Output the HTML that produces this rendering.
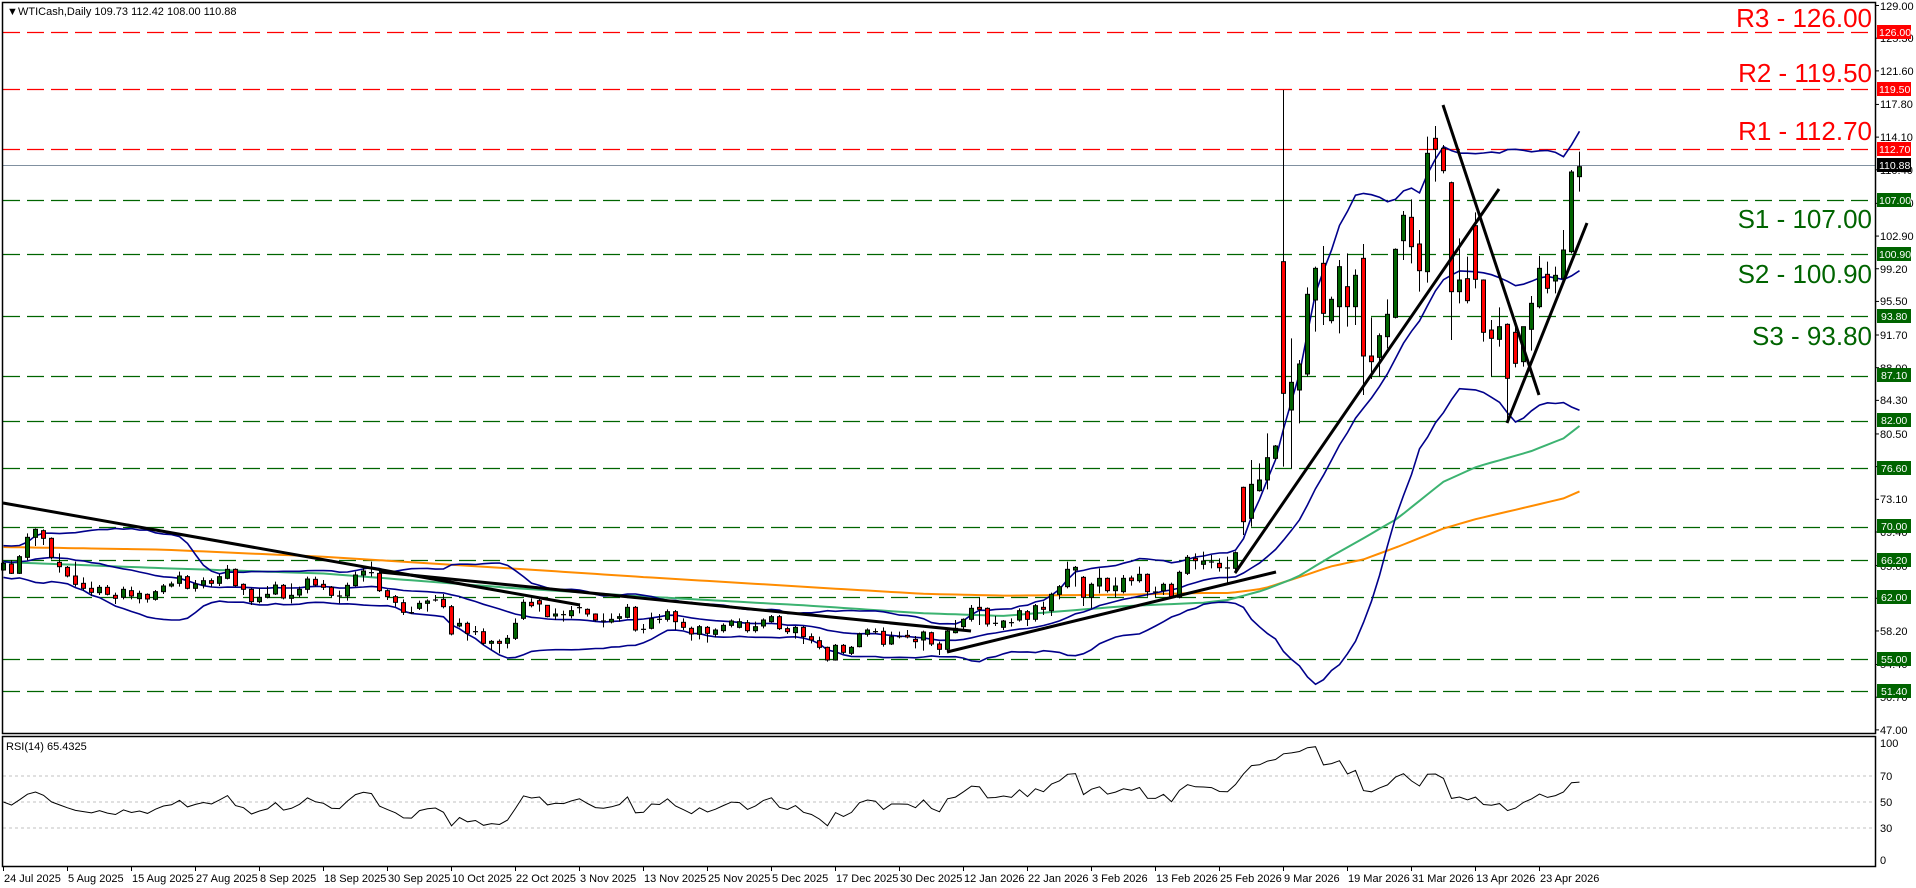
<!DOCTYPE html>
<html><head><meta charset="utf-8">
<style>
html,body{margin:0;padding:0;background:#fff;}
svg{display:block;font-family:"Liberation Sans",Tahoma,sans-serif;}
.ax{font-size:11px;fill:#000;}
.bx{font-size:10.5px;fill:#fff;}
.big{font-size:26px;}
</style></head>
<body>
<svg id="c" width="1916" height="888" viewBox="0 0 1916 888" xmlns="http://www.w3.org/2000/svg">
<rect x="0" y="0" width="1916" height="888" fill="#fff"/>
<g id="hl"></g>
<g id="ind"></g>
<g id="cd"></g>
<g id="tl"></g>
<g id="rsi"></g>
<rect x="2.5" y="2.5" width="1873" height="731" fill="none" stroke="#000" stroke-width="1.5"/>
<rect x="2.5" y="736.5" width="1873" height="130" fill="none" stroke="#000" stroke-width="1.5"/>
<text x="7" y="15" class="ax">▼</text>
<text x="18" y="15" class="ax">WTICash,Daily  109.73 112.42 108.00 110.88</text>
<text x="6" y="750" class="ax">RSI(14) 65.4325</text>
<text x="1872" y="27" class="big" fill="#ff0000" text-anchor="end">R3 - 126.00</text>
<text x="1872" y="82" class="big" fill="#ff0000" text-anchor="end">R2 - 119.50</text>
<text x="1872" y="140" class="big" fill="#ff0000" text-anchor="end">R1 - 112.70</text>
<text x="1872" y="228" class="big" fill="#006400" text-anchor="end">S1 - 107.00</text>
<text x="1872" y="283" class="big" fill="#006400" text-anchor="end">S2 - 100.90</text>
<text x="1872" y="345" class="big" fill="#006400" text-anchor="end">S3 - 93.80</text>
<g class="ax">
<text x="1880" y="10">129.00</text><text x="1880" y="42">125.30</text><text x="1880" y="75">121.60</text>
<text x="1880" y="108">117.80</text><text x="1880" y="141">114.10</text><text x="1880" y="174">110.40</text>
<text x="1880" y="207">106.60</text><text x="1880" y="240">102.90</text><text x="1880" y="273">99.20</text>
<text x="1880" y="305">95.50</text><text x="1880" y="339">91.70</text><text x="1880" y="372">88.00</text>
<text x="1880" y="404">84.30</text><text x="1880" y="438">80.50</text><text x="1880" y="471">76.80</text>
<text x="1880" y="503">73.10</text><text x="1880" y="536">69.40</text><text x="1880" y="570">65.60</text>
<text x="1880" y="602">61.90</text><text x="1880" y="635">58.20</text><text x="1880" y="668">54.40</text>
<text x="1880" y="701">50.70</text><text x="1880" y="734">47.00</text>
</g>
<g id="ticks"></g>
<g>
<rect x="1877" y="25" width="34" height="14" fill="#ff0000"/><text x="1879" y="36" class="bx">126.00</text>
<rect x="1877" y="82" width="34" height="14" fill="#ff0000"/><text x="1879" y="93" class="bx">119.50</text>
<rect x="1877" y="142" width="34" height="14" fill="#ff0000"/><text x="1879" y="153" class="bx">112.70</text>
<rect x="1877" y="158" width="34" height="14" fill="#000"/><text x="1879" y="169" class="bx">110.88</text>
<rect x="1877" y="193" width="34" height="14" fill="#006400"/><text x="1879" y="204" class="bx">107.00</text>
<rect x="1877" y="247" width="34" height="14" fill="#006400"/><text x="1879" y="258" class="bx">100.90</text>
<rect x="1877" y="309" width="34" height="14" fill="#006400"/><text x="1881" y="320" class="bx">93.80</text>
<rect x="1877" y="368" width="34" height="14" fill="#006400"/><text x="1881" y="379" class="bx">87.10</text>
<rect x="1877" y="413" width="34" height="14" fill="#006400"/><text x="1881" y="424" class="bx">82.00</text>
<rect x="1877" y="461" width="34" height="14" fill="#006400"/><text x="1881" y="472" class="bx">76.60</text>
<rect x="1877" y="519" width="34" height="14" fill="#006400"/><text x="1881" y="530" class="bx">70.00</text>
<rect x="1877" y="553" width="34" height="14" fill="#006400"/><text x="1881" y="564" class="bx">66.20</text>
<rect x="1877" y="590" width="34" height="14" fill="#006400"/><text x="1881" y="601" class="bx">62.00</text>
<rect x="1877" y="652" width="34" height="14" fill="#006400"/><text x="1881" y="663" class="bx">55.00</text>
<rect x="1877" y="684" width="34" height="14" fill="#006400"/><text x="1881" y="695" class="bx">51.40</text>
</g>
<g class="ax">
<text x="1880" y="747">100</text><text x="1880" y="780">70</text><text x="1880" y="806">50</text>
<text x="1880" y="832">30</text><text x="1880" y="864">0</text>
</g>
<g class="ax">
<text x="4" y="882">24 Jul 2025</text><text x="68" y="882">5 Aug 2025</text><text x="132" y="882">15 Aug 2025</text>
<text x="196" y="882">27 Aug 2025</text><text x="260" y="882">8 Sep 2025</text><text x="324" y="882">18 Sep 2025</text>
<text x="388" y="882">30 Sep 2025</text><text x="452" y="882">10 Oct 2025</text><text x="516" y="882">22 Oct 2025</text>
<text x="580" y="882">3 Nov 2025</text><text x="644" y="882">13 Nov 2025</text><text x="708" y="882">25 Nov 2025</text>
<text x="772" y="882">5 Dec 2025</text><text x="836" y="882">17 Dec 2025</text><text x="900" y="882">30 Dec 2025</text>
<text x="964" y="882">12 Jan 2026</text><text x="1028" y="882">22 Jan 2026</text><text x="1092" y="882">3 Feb 2026</text>
<text x="1156" y="882">13 Feb 2026</text><text x="1220" y="882">25 Feb 2026</text><text x="1284" y="882">9 Mar 2026</text>
<text x="1348" y="882">19 Mar 2026</text><text x="1412" y="882">31 Mar 2026</text><text x="1476" y="882">13 Apr 2026</text>
<text x="1540" y="882">23 Apr 2026</text>
</g>
</svg>
<script>
(function(){
var NS="http://www.w3.org/2000/svg";
function el(p,t,a){var e=document.createElementNS(NS,t);for(var k in a)e.setAttribute(k,a[k]);p.appendChild(e);return e;}
function Y(p){return 32+(126-p)*8.834;}
function P(y){return 126-(y-32)/8.834;}
var A="390 370 365 392|372 400 360 402|400 350 345 402|352 292 280 360|292 268 265 318|272 295 268 315|295 352 292 358|367 380 340 398|382 408 378 412|408 433 365 440|430 445 412 452|445 457 425 468|458 442 435 465|442 463 435 466|466 475 458 492|472 448 440 478|452 468 440 478|476 460 452 490|463 477 460 488|478 455 450 482|455 438 432 462|438 432 425 442|430 408 395 440|410 445 405 448|445 432 420 455|435 422 412 445|422 430 415 440|430 410 402 438|415 388 375 418|388 437 385 440|433 448 430 465|448 485 445 495|485 472 445 490|472 463 438 475|462 435 425 465|436 474 432 478|475 466 430 490|465 448 440 472|448 417 410 460|418 435 410 440|433 442 420 450|442 466 438 472|467 468 452 490|468 436 428 482|437 405 395 440|405 393 380 425|397 398 365 410|400 452 390 456|452 470 448 480|470 487 465 500|488 517 478 525|517 518 500 522|505 490 482 510|490 483 478 515|479 480 465 485|478 500 462 505|500 582 495 586|558 550 535 562|550 580 545 602|574 575 558 585|575 610 565 615|610 604 600 630|604 610 598 640|610 595 585 625|595 550 535 600|535 487 478 540|487 497 475 502|482 492 475 515|496 530 495 532|528 522 505 540|523 524 512 545|527 512 498 535|502 503 490 520|508 522 505 530|522 540 520 545|542 543 520 562|546 538 520 550|535 530 520 545|532 502 492 535|502 570 498 575|567 568 552 580|565 536 518 568|537 538 522 550|538 515 508 545|515 545 510 570|547 562 535 570|565 582 560 602|583 560 555 598|562 580 558 608|583 570 565 592|572 556 550 578|556 543 538 562|562 545 535 565|548 572 540 578|572 560 545 578|558 540 535 565|545 530 525 548|530 566 525 570|566 575 560 582|578 562 558 596|562 590 558 612|590 600 580 610|602 622 590 628|622 660 620 665|660 616 612 662|616 637 612 642|640 622 618 645|620 582 578 622|583 570 565 590|574 575 565 582|574 613 562 620|612 590 575 615|589 590 575 595|586 591 570 595|598 605 588 625|600 576 572 632|578 612 575 618|612 628 605 645|628 573 565 632|578 565 540 580|560 538 535 568|538 505 495 545|502 508 472 555|505 552 502 560|549 550 528 558|562 543 540 570|547 548 535 560";
var B="840 812 805 845|815 838 810 858|838 797 792 845|802 808 785 825|812 763 758 828|763 740 735 778|740 688 665 745|690 682 678 740|712 772 708 798|772 733 728 805|738 715 685 760|715 752 712 758|752 738 712 772|755 715 705 760|714 722 707 737|722 703 680 728|703 755 700 770|755 756 740 772|752 733 728 765|733 770 728 775|772 697 692 775|700 652 645 705|655 662 640 688|673 663 635 688|665 666 645 685|670 683 655 695|683 684 650 728|685 638 634 700|442 545 440 585|535 433 360 560|452 420 370 455|420 353 280 448|355 318 315 360";
var C="545 940 30 1160|990 907 775 1165|930 852 840 1030|882 643 622 890|660 565 560 755|550 700 498 735|722 658 650 730|680 560 540 760|620 680 520 740|680 586 568 735|535 828 492 945|828 845 712 897|832 767 760 890|770 703 658 805|712 508 505 715|482 406 393 540|412 500 358 550|492 572 450 635|575 220 170 608|175 208 138 305|205 272 195 280|308 635 305 780|635 600 475 670|596 662 530 670|437 598 397 625|600 757 598 785|750 775 720 890|778 740 682 800|733 895 730 1028|757 850 720 862|845 740 740 860|748 670 648 812|680 565 528 685|583 625 545 640|603 586 560 640|595 510 450 600|515 276 270 520|290 260 215 335";
var bars=[];
function add(s,off){s.split("|").forEach(function(r){var v=r.split(" ").map(Number);bars.push(v.map(function(z){return off+z/3;}));});}
add(A,440);add(B,340);add(C,80);
var cd=document.getElementById("cd");
var closes=[];
bars.forEach(function(b,i){
 var x=3+8*i,yo=b[0],yc=b[1],yh=Math.min(b[2],yo,yc),yl=Math.max(b[3],yo,yc);
 closes.push(P(yc));
 el(cd,"line",{x1:x+0.5,x2:x+0.5,y1:yh,y2:yl,stroke:"#000","stroke-width":1});
 var t=Math.min(yo,yc),h=Math.abs(yo-yc);
 if(h<1.5){el(cd,"line",{x1:x-2,x2:x+3,y1:yc,y2:yc,stroke:"#000","stroke-width":1.2});}
 else el(cd,"rect",{x:x-1.5,y:t,width:4,height:h,fill:yc<yo?"#006400":"#ff0000",stroke:"#000","stroke-width":1});
});
var hl=document.getElementById("hl");
[[126,"#ff0000"],[119.5,"#ff0000"],[112.7,"#ff0000"],[107,"#006400"],[100.9,"#006400"],[93.8,"#006400"],[87.1,"#006400"],[82,"#006400"],[76.6,"#006400"],[70,"#006400"],[66.2,"#006400"],[62,"#006400"],[55,"#006400"],[51.4,"#006400"]].forEach(function(l){
 var y=Math.round(Y(l[0]))+0.5;el(hl,"line",{x1:3,x2:1874,y1:y,y2:y,stroke:l[1],"stroke-width":1.3,"stroke-dasharray":"17 7"});});
el(hl,"line",{x1:3,x2:1875,y1:165.5,y2:165.5,stroke:"#8090a0","stroke-width":1});
var tk=document.getElementById("ticks");
[129,125.3,121.6,117.8,114.1,110.4,106.6,102.9,99.2,95.5,91.7,88,84.3,80.5,76.8,73.1,69.4,65.6,61.9,58.2,54.4,50.7,47].forEach(function(p){var y=Y(p);el(tk,"line",{x1:1876,x2:1879,y1:y,y2:y,stroke:"#000"});});
for(var k=0;k<=24;k++){var x=3+64*k+0.5;el(tk,"line",{x1:x,x2:x,y1:867,y2:871,stroke:"#000"});}
var pre=[];for(var j=0;j<40;j++)pre.push(66+((j%2)?1:-1)*0.9+(j%5-2)*0.2);
var all=pre.concat(closes),N0=pre.length;
var ind=document.getElementById("ind");
function line(pts,col,w){el(ind,"polyline",{points:pts.join(" "),fill:"none",stroke:col,"stroke-width":w});}
var up=[],mid=[],lo=[];
for(var i=0;i<closes.length;i++){var s=0,q=0,n=20;for(var m=0;m<n;m++){s+=all[N0+i-m];}var mu=s/n;for(m=0;m<n;m++){q+=Math.pow(all[N0+i-m]-mu,2);}var sd=Math.sqrt(q/n);
 var x=3+8*i+0.5;up.push(x+","+Y(mu+2*sd).toFixed(1));mid.push(x+","+Y(mu).toFixed(1));lo.push(x+","+Y(mu-2*sd).toFixed(1));}
function interp(an){var pts=[];for(var i=0;i<closes.length;i++){var a=0;while(a<an.length-2&&an[a+1][0]<i)a++;var p0=an[a],p1=an[a+1];var t=(i-p0[0])/(p1[0]-p0[0]);t=Math.max(0,Math.min(1,t));pts.push((3+8*i+0.5)+","+Y(p0[1]+(p1[1]-p0[1])*t).toFixed(1));}return pts;}
var green=[[0,66],[20,65.3],[40,64.7],[63,63.1],[80,62.1],[100,61.1],[115,60.2],[125,59.9],[140,61],[150,61.4],[153,61.7],[157.5,62.8],[161.7,64.3],[165.9,66.6],[170,68.7],[174.2,70.9],[180,75.1],[184.2,76.8],[190.8,78.5],[195,80],[197,81.4]];
var orange=[[0,67.7],[20,67.4],[40,66.6],[63,65.3],[80,64.3],[100,63.2],[115,62.4],[125,62.2],[140,62.3],[150,62.5],[153.4,62.5],[157.5,63],[161.7,64.2],[165.9,65.5],[170,66.3],[174.2,67.7],[180,69.8],[184.2,70.9],[190.8,72.3],[195,73.2],[197,74]];
line(interp(orange),"#ff8c00",2);
line(interp(green),"#3cb371",2);
line(up,"#00008b",1.6);line(mid,"#00008b",1.6);line(lo,"#00008b",1.6);
var tl=document.getElementById("tl");
[[3,503,580,605],[380,572,971,631],[947,652,1276,572],[1235,573,1499,189],[1443,105,1539,395],[1507,423,1587,223]].forEach(function(l){el(tl,"line",{x1:l[0],y1:l[1],x2:l[2],y2:l[3],stroke:"#000","stroke-width":3});});
var rs=document.getElementById("rsi");
[70,50,30].forEach(function(v){var y=867-1.3*v;el(rs,"line",{x1:3,x2:1874,y1:y,y2:y,stroke:"#c0c0c0","stroke-dasharray":"3 3"});});
var ag=0,al=0,pts=[];
for(var t=1;t<=14;t++){var d=all[t]-all[t-1];if(d>0)ag+=d;else al-=d;}ag/=14;al/=14;
for(t=15;t<all.length;t++){var d=all[t]-all[t-1];ag=(ag*13+Math.max(d,0))/14;al=(al*13+Math.max(-d,0))/14;
 if(t>=N0){var r=al==0?100:100-100/(1+ag/al);pts.push((3+8*(t-N0)+0.5)+","+(867-1.3*r).toFixed(1));}}
el(rs,"polyline",{points:pts.join(" "),fill:"none",stroke:"#000","stroke-width":1});
})();
</script>
</body></html>
